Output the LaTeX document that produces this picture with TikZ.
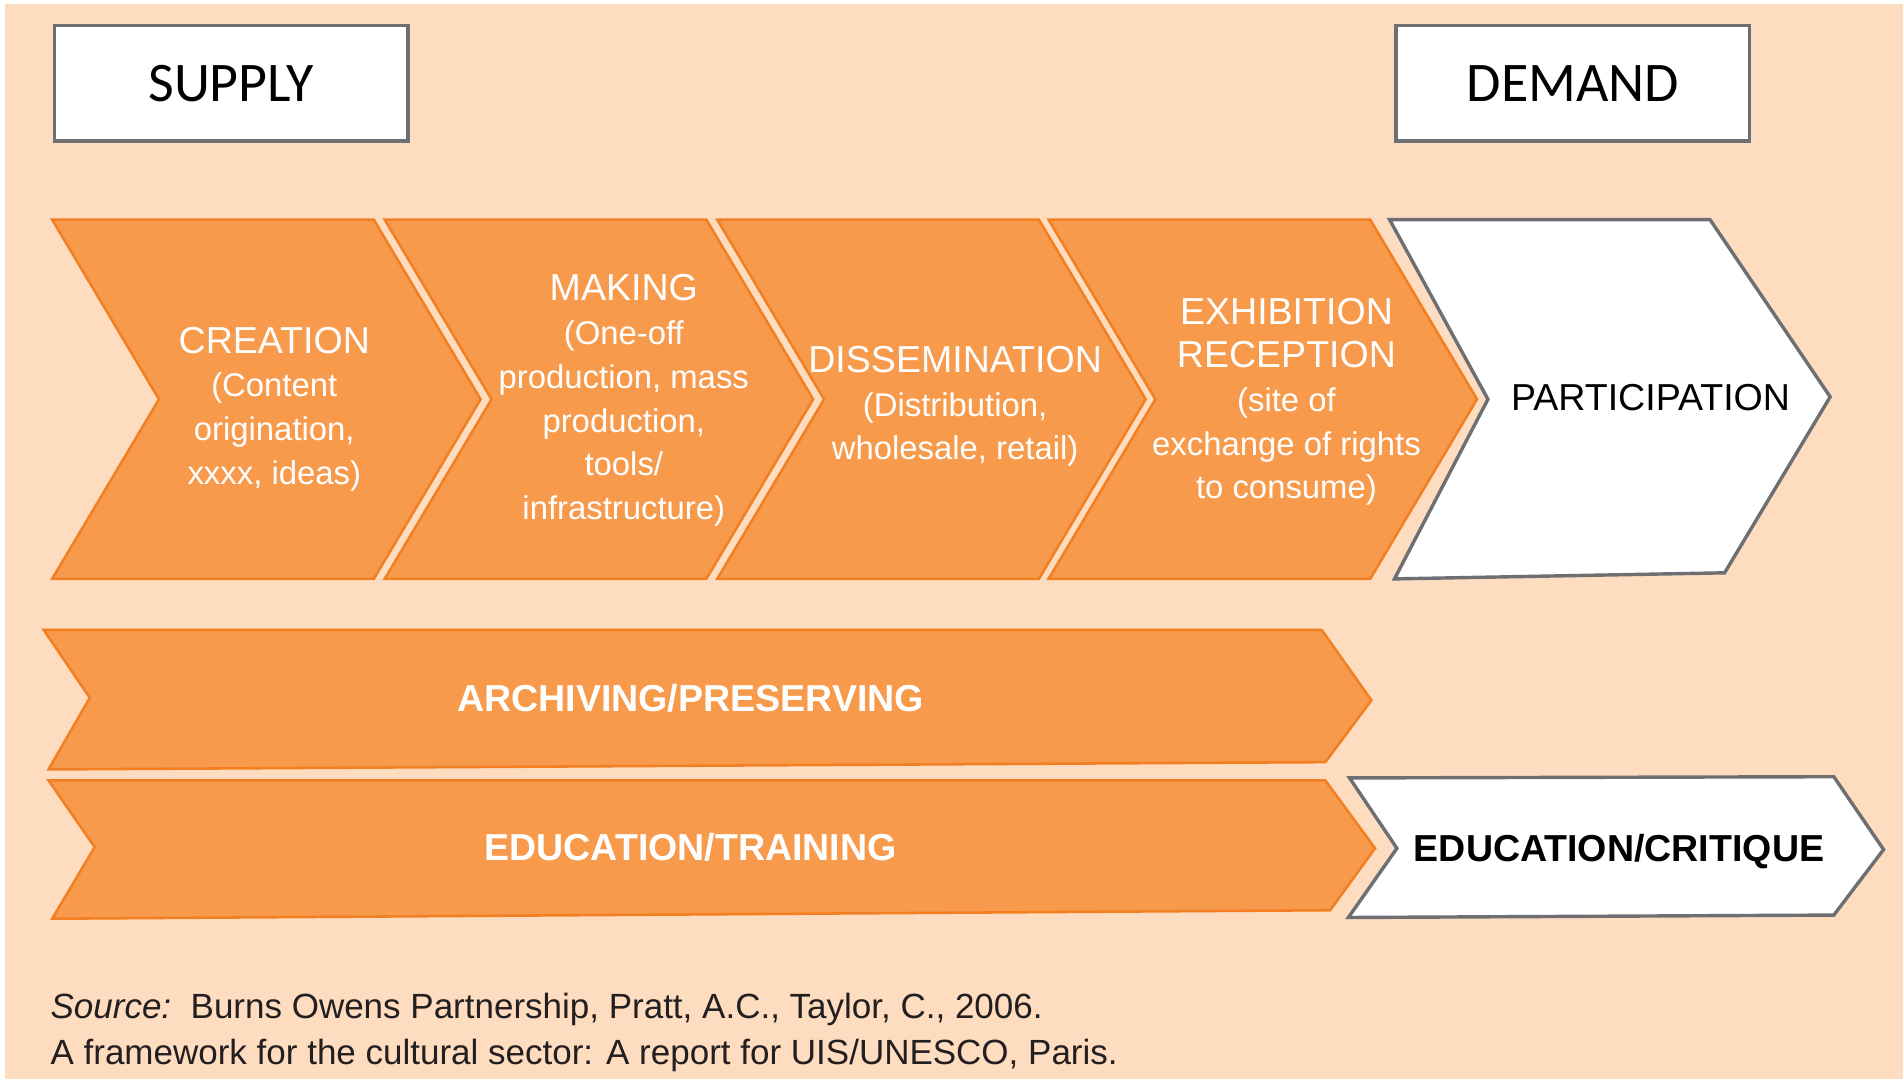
\documentclass[tikz,border=0pt]{standalone}
\usepackage{fontspec}
\setmainfont{Liberation Sans}
\newfontfamily\boxfont{Carlito}
\definecolor{peach}{RGB}{253,220,191}
\definecolor{chevfill}{RGB}{247,154,75}
\definecolor{chevline}{RGB}{242,128,34}
\definecolor{rim}{RGB}{110,111,114}
\definecolor{ink}{RGB}{35,31,32}
\newcommand{\ttl}{\fontsize{8.8pt}{10.24pt}\selectfont}

\begin{document}
\begin{tikzpicture}[x=0.01cm,y=-0.01cm,
  orange/.style={fill=chevfill,draw=chevline,line width=0.6pt},
  blank/.style={fill=white,draw=rim,line width=0.8pt},
  lbl/.style={text=white,align=center,inner sep=0pt,font=\fontsize{7.7pt}{10.24pt}\selectfont},
  bar/.style={text=white,inner sep=0pt,font=\fontsize{8.8pt}{10pt}\selectfont\bfseries},
  side/.style={blank,minimum width=2.91cm,minimum height=0.95cm,inner sep=0pt,font=\boxfont\fontsize{13.1pt}{15pt}\selectfont}]
  \useasboundingbox (0,0) rectangle (1568,889);
  \fill[peach] (4,3) rectangle (1568,889);
  % value chain
  \foreach \x in {43,317,591,864}
    \draw[orange] (\x,181) -- ++(265,0) -- ++(88,148) -- ++(-88,148) -- ++(-265,0) -- ++(88,-148) -- cycle;
  \draw[blank] (1145,181) -- (1409,181) -- (1508,327) -- (1421,472) -- (1149,477) -- (1226,329) -- cycle;
  % bars
  \draw[orange] (36,519) -- (1089,519) -- (1130,577) -- (1092,628) -- (40,634) -- (74,575) -- cycle;
  \draw[orange] (40,643) -- (1092,643) -- (1133,699) -- (1096,750) -- (43,757) -- (78,698) -- cycle;
  \draw[blank] (1112,641) -- (1511,640) -- (1552,700) -- (1511,754) -- (1111,756) -- (1151,699) -- cycle;

  \node[side] (supply) at (190.5,68.5) {SUPPLY};
  \node[side] (demand) at (1296,68.5) {DEMAND};

  \node[lbl] (creation) at (226,337) {{\ttl CREATION}\\(Content\\origination,\\xxxx, ideas)};
  \node[lbl] (making) at (514,330) {{\ttl MAKING}\\(One-off\\production, mass\\production,\\tools/\\infrastructure)};
  \node[lbl] (dissemination) at (787,335) {{\ttl DISSEMINATION}\\(Distribution,\\wholesale, retail)};
  \node[lbl] (exhibition) at (1060,331) {{\ttl EXHIBITION}\\{\ttl RECEPTION}\\(site of\\exchange of rights\\to consume)};
  \node[lbl,text=black] (participation) at (1360,328) {\ttl PARTICIPATION};

  \node[bar] (archiving) at (569,575) {ARCHIVING/PRESERVING};
  \node[bar] (edutraining) at (569,698) {EDUCATION/TRAINING};
  \node[bar,text=black] (educritique) at (1334,702) {EDUCATION/CRITIQUE};

  \node[anchor=west,align=left,inner sep=0pt,text=ink,font=\fontsize{8.2pt}{10.8pt}\selectfont] (source) at (41,851)
    {\textit{Source:}\ \ Burns Owens Partnership, Pratt, A.C., Taylor, C., 2006.\\A framework for the cultural sector: A report for UIS/UNESCO, Paris.};
\end{tikzpicture}
\end{document}
